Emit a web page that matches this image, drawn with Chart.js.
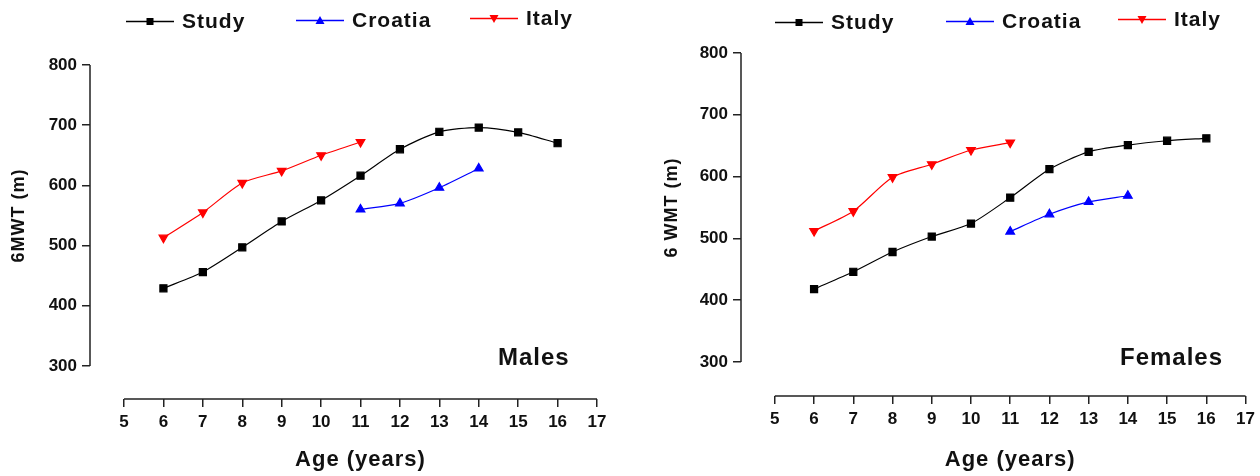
<!DOCTYPE html>
<html>
<head>
<meta charset="utf-8">
<script src="https://cdn.jsdelivr.net/npm/chart.js@4.4.0/dist/chart.umd.min.js"></script>
<style>
body { margin: 0; background: #fff; width: 1260px; height: 476px; overflow: hidden; position: relative; font-family: 'Liberation Sans', Arial, sans-serif; }
canvas { position: absolute; top: 0; }
#males-chart { left: 0; }
#females-chart { left: 630px; }
.leg { position: absolute; height: 24px; display: flex; align-items: center; font-weight: bold; font-size: 21px; letter-spacing: 1px; color: #111; white-space: nowrap; }
.leg svg { margin-right: 8px; }
</style>
</head>
<body>
<canvas id="males-chart" width="630" height="476"></canvas>
<canvas id="females-chart" width="630" height="476"></canvas>
<script>
var ageStudy = [6, 7, 8, 9, 10, 11, 12, 13, 14, 15, 16];
var ageCroatia = [11, 12, 13, 14];
var ageItaly = [6, 7, 8, 9, 10, 11];

var maleStudy = [429, 456, 497, 540, 575, 616, 660, 689, 696, 688, 670];
var maleCroatia = [560, 570, 596, 628];
var maleItaly = [513, 555, 604, 624, 650, 672];

var femaleStudy = [418, 446, 478, 503, 524, 566, 612, 640, 651, 658, 662];
var femaleCroatia = [511, 539, 559, 569];
var femaleItaly = [512, 544, 599, 620, 643, 655];

var xTicks = [5, 6, 7, 8, 9, 10, 11, 12, 13, 14, 15, 16, 17];
var yTicks = [300, 400, 500, 600, 700, 800];

var fontFamily = "'Liberation Sans', Arial, sans-serif";

function points(ages, values) {
    return ages.map(function (a, i) { return { x: a, y: values[i] }; });
}

function series(label, ages, values, color, style, rotation) {
    return {
        label: label,
        data: points(ages, values),
        borderColor: color,
        backgroundColor: color,
        borderWidth: 1.2,
        pointStyle: style,
        pointRotation: rotation,
        pointRadius: 5,
        pointHoverRadius: 5,
        tension: 0.25,
        fill: false
    };
}

// detached axis lines (Prism style), axis titles centred on them, and the panel label
var axisLines = {
    id: 'axisLines',
    afterDraw: function (chart, args, opts) {
        var ctx = chart.ctx, xs = chart.scales.x, ys = chart.scales.y, a = chart.chartArea;
        var yTop = ys.getPixelForValue(yTicks[yTicks.length - 1]);
        var yBot = ys.getPixelForValue(yTicks[0]);
        var xL = xs.getPixelForValue(xTicks[0]);
        var xR = xs.getPixelForValue(xTicks[xTicks.length - 1]);
        ctx.save();
        ctx.strokeStyle = '#222';
        ctx.lineWidth = 1.5;
        ctx.beginPath();
        ctx.moveTo(a.left, yBot);
        ctx.lineTo(a.left, yTop);
        ctx.moveTo(xL, a.bottom);
        ctx.lineTo(xR, a.bottom);
        ctx.stroke();

        ctx.letterSpacing = '1px';
        ctx.fillStyle = '#111';
        ctx.textAlign = 'center';
        ctx.textBaseline = 'middle';
        ctx.font = 'bold 22px ' + fontFamily;
        ctx.fillText(opts.xTitle, (xL + xR) / 2, opts.xTitleY);

        ctx.save();
        ctx.translate(opts.yTitleX, (yTop + yBot) / 2);
        ctx.rotate(-Math.PI / 2);
        ctx.font = 'bold 18px ' + fontFamily;
        ctx.fillText(opts.yTitle, 0, 0);
        ctx.restore();

        ctx.font = 'bold 24px ' + fontFamily;
        ctx.textAlign = 'left';
        ctx.textBaseline = 'alphabetic';
        ctx.fillText(opts.text, opts.x, opts.y);
        ctx.restore();
    }
};

function makeChart(id, study, croatia, italy, panel, lay) {
    var ctx = document.getElementById(id).getContext('2d');
    return new Chart(ctx, {
        type: 'line',
        data: {
            datasets: [
                series('Study', ageStudy, study, '#000000', 'rect', 0),
                series('Croatia', ageCroatia, croatia, '#0000ff', 'triangle', 0),
                series('Italy', ageItaly, italy, '#ff0000', 'triangle', 180)
            ]
        },
        options: {
            responsive: false,
            animation: false,
            layout: { padding: { left: 0, top: lay.top, right: lay.right, bottom: 0 } },
            plugins: {
                legend: { display: false },
                tooltip: { enabled: false },
                axisLines: panel
            },
            scales: {
                x: {
                    type: 'linear',
                    min: 4.137,
                    max: 17,
                    afterBuildTicks: function (s) { s.ticks = xTicks.map(function (v) { return { value: v }; }); },
                    afterFit: function (s) { s.height = lay.xHeight; },
                    grid: { drawOnChartArea: false, drawTicks: true, tickLength: 8, color: '#222', lineWidth: 1.5 },
                    border: { display: false },
                    ticks: { color: '#111', padding: 5, maxRotation: 0, autoSkip: false, font: { family: fontFamily, size: 17, weight: 'bold' } }
                },
                y: {
                    min: 245,
                    max: 800,
                    afterBuildTicks: function (s) { s.ticks = yTicks.map(function (v) { return { value: v }; }); },
                    afterFit: function (s) { s.width = lay.yWidth; },
                    grid: { drawOnChartArea: false, drawTicks: true, tickLength: 8, color: '#222', lineWidth: 1.5 },
                    border: { display: false },
                    ticks: { color: '#111', padding: 5, font: { family: fontFamily, size: 17, weight: 'bold' } }
                }
            }
        },
        plugins: [axisLines]
    });
}

makeChart('males-chart', maleStudy, maleCroatia, maleItaly,
    { text: 'Males', x: 498, y: 365, xTitle: 'Age (years)', xTitleY: 460, yTitle: '6MWT (m)', yTitleX: 19 },
    { top: 65, right: 33, xHeight: 77, yWidth: 90 });
makeChart('females-chart', femaleStudy, femaleCroatia, femaleItaly,
    { text: 'Females', x: 490, y: 365, xTitle: 'Age (years)', xTitleY: 460, yTitle: '6 WMT (m)', yTitleX: 42 },
    { top: 53, right: 12, xHeight: 80, yWidth: 111 });

// legends above each panel
var legendItems = [
    { label: 'Study', color: '#000000', marker: 'square', left: 126, y: 21 },
    { label: 'Croatia', color: '#0000ff', marker: 'up', left: 296, y: 20 },
    { label: 'Italy', color: '#ff0000', marker: 'down', left: 470, y: 18 },
    { label: 'Study', color: '#000000', marker: 'square', left: 775, y: 22 },
    { label: 'Croatia', color: '#0000ff', marker: 'up', left: 946, y: 21 },
    { label: 'Italy', color: '#ff0000', marker: 'down', left: 1118, y: 19 }
];

legendItems.forEach(function (it) {
    var shape;
    if (it.marker === 'square') {
        shape = '<rect x="20.5" y="4" width="7" height="7" fill="' + it.color + '"/>';
    } else if (it.marker === 'up') {
        shape = '<polygon points="24,3 28.5,11 19.5,11" fill="' + it.color + '"/>';
    } else {
        shape = '<polygon points="24,12 28.5,4 19.5,4" fill="' + it.color + '"/>';
    }
    var div = document.createElement('div');
    div.className = 'leg';
    div.style.left = it.left + 'px';
    div.style.top = (it.y - 12) + 'px';
    div.innerHTML = '<svg width="48" height="15"><line x1="0" y1="7.5" x2="48" y2="7.5" stroke="' + it.color + '" stroke-width="1.3"/>' + shape + '</svg><span>' + it.label + '</span>';
    document.body.appendChild(div);
});
</script>
</body>
</html>
